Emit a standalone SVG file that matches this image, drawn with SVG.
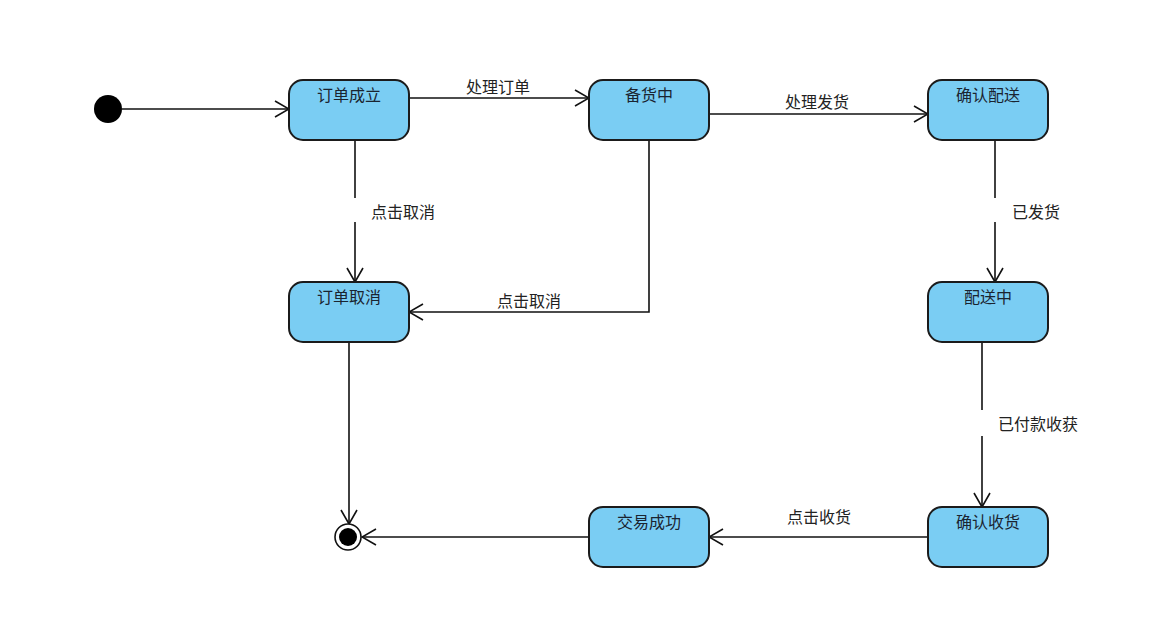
<svg xmlns="http://www.w3.org/2000/svg" width="1168" height="642" viewBox="0 0 1168 642">
  <defs>
    <marker id="open" viewBox="0 0 16 18" refX="15" refY="9" markerWidth="16" markerHeight="18" markerUnits="userSpaceOnUse" orient="auto">
      <path d="M1,1 L15,9 L1,17" fill="none" stroke="#111" stroke-width="1.6"/>
    </marker>
  </defs>
  <style>
    .state { fill: #7acdf3; stroke: #1b1b1b; stroke-width: 2; }
    .name { font-family: "Noto Sans CJK SC", sans-serif; font-size: 16px; fill: #1a2430; text-anchor: middle; }
    .edge { fill: none; stroke: #111; stroke-width: 1.6; marker-end: url(#open); }
    .lbl { font-family: "Noto Sans CJK SC", sans-serif; font-size: 16px; fill: #222; }
    .bg { fill: #fff; }
  </style>
  <rect width="1168" height="642" fill="#fff"/>

  <g id="connectors">
    <path class="edge" d="M122,109 H289"/>
    <path class="edge" d="M409,98 H589"/>
    <path class="edge" d="M709,114 H928"/>
    <path class="edge" d="M355,140 V282"/>
    <path class="edge" d="M649,140 V312 H409"/>
    <path class="edge" d="M995,140 V282"/>
    <path class="edge" d="M982,342 V507"/>
    <path class="edge" d="M928,537 H709"/>
    <path class="edge" d="M589,537 H362"/>
    <path class="edge" d="M349,342 V524"/>
    <!-- label backgrounds on vertical transitions -->
    <rect class="bg" x="353" y="198" width="4" height="24"/>
    <rect class="bg" x="993" y="198" width="4" height="24"/>
    <rect class="bg" x="980" y="410" width="4" height="26"/>
    <text class="lbl" x="466" y="93">处理订单</text>
    <text class="lbl" x="785" y="108">处理发货</text>
    <text class="lbl" x="371" y="218">点击取消</text>
    <text class="lbl" x="497" y="307">点击取消</text>
    <text class="lbl" x="1012" y="218">已发货</text>
    <text class="lbl" x="998" y="430">已付款收获</text>
    <text class="lbl" x="787" y="523">点击收货</text>
  </g>

  <g id="initial">
    <circle cx="108" cy="109" r="14" fill="#000"/>
  </g>
  <g id="final">
    <circle cx="348" cy="537" r="13" fill="#fff" stroke="#111" stroke-width="1.6"/>
    <circle cx="348" cy="537" r="9" fill="#000"/>
  </g>

  <g id="s-order-created">
    <rect class="state" x="289" y="80" width="120" height="60" rx="14"/>
    <text class="name" x="349" y="101">订单成立</text>
  </g>
  <g id="s-stocking">
    <rect class="state" x="589" y="80" width="120" height="60" rx="14"/>
    <text class="name" x="649" y="101">备货中</text>
  </g>
  <g id="s-confirm-delivery">
    <rect class="state" x="928" y="80" width="120" height="60" rx="14"/>
    <text class="name" x="988" y="101">确认配送</text>
  </g>
  <g id="s-order-cancelled">
    <rect class="state" x="289" y="282" width="120" height="60" rx="14"/>
    <text class="name" x="349" y="303">订单取消</text>
  </g>
  <g id="s-delivering">
    <rect class="state" x="928" y="282" width="120" height="60" rx="14"/>
    <text class="name" x="988" y="303">配送中</text>
  </g>
  <g id="s-confirm-receipt">
    <rect class="state" x="928" y="507" width="120" height="60" rx="14"/>
    <text class="name" x="988" y="528">确认收货</text>
  </g>
  <g id="s-deal-done">
    <rect class="state" x="589" y="507" width="120" height="60" rx="14"/>
    <text class="name" x="649" y="528">交易成功</text>
  </g>
</svg>
